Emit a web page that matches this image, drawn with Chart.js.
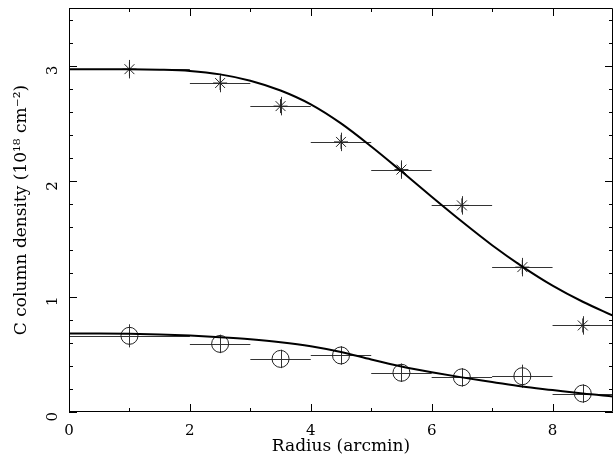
<!DOCTYPE html>
<html>
<head>
<meta charset="utf-8">
<script src="https://cdn.jsdelivr.net/npm/chart.js@4.4.0/dist/chart.umd.min.js"></script>
<style>
  html, body { margin: 0; padding: 0; background: #fff; }
  #wrap { width: 613px; height: 457px; }
</style>
</head>
<body>
<div id="wrap"><canvas id="densityChart"></canvas></div>
<script>
// Radial bins (arcmin)
const radius = [1, 2.5, 3.5, 4.5, 5.5, 6.5, 7.5, 8.5];
const binLow = [0, 2, 3, 4, 5, 6, 7, 8];
const binHigh = [2, 3, 4, 5, 6, 7, 8, 9];

// Column densities, 10^18 cm^-2
const upperDensity = [2.97, 2.85, 2.65, 2.34, 2.10, 1.79, 1.255, 0.75];
const upperErr = [0.08, 0.08, 0.08, 0.08, 0.08, 0.08, 0.08, 0.08];
const lowerDensity = [0.66, 0.59, 0.46, 0.49, 0.34, 0.30, 0.31, 0.16];
const lowerErr = [0.1, 0.08, 0.08, 0.08, 0.08, 0.08, 0.1, 0.08];

// Model profiles
const modelRadius = [0, 0.5, 1, 1.5, 2, 2.5, 3, 3.5, 4, 4.5, 5, 5.5, 6, 6.5, 7, 7.5, 8, 8.5, 9];
const upperModel = [2.97, 2.97, 2.97, 2.966, 2.955, 2.925, 2.87, 2.785, 2.665, 2.50, 2.30, 2.085, 1.865, 1.65, 1.445, 1.26, 1.095, 0.955, 0.835];
const lowerModel = [0.68, 0.68, 0.678, 0.672, 0.662, 0.648, 0.63, 0.605, 0.57, 0.52, 0.455, 0.395, 0.345, 0.30, 0.26, 0.22, 0.19, 0.16, 0.135];

// Axis ticks
const xMajorTicks = [0, 2, 4, 6, 8];
const xMinorTicks = [1, 3, 5, 7, 9];
const yMajorTicks = [0, 1, 2, 3];
const yMinorTicks = [0.2, 0.4, 0.6, 0.8, 1.2, 1.4, 1.6, 1.8, 2.2, 2.4, 2.6, 2.8, 3.2, 3.4];

const serif = '"DejaVu Serif", "Liberation Serif", serif';

function pairs(xs, ys) {
    return xs.map((x, i) => ({ x: x, y: ys[i] }));
}

// Error bars drawn under the markers
const errorBars = {
    id: 'errorBars',
    beforeDatasetsDraw(chart) {
        const { ctx, scales: { x, y } } = chart;
        ctx.save();
        ctx.strokeStyle = '#333';
        ctx.lineWidth = 1;
        const sets = [[upperDensity, upperErr], [lowerDensity, lowerErr]];
        sets.forEach(([vals, errs]) => {
            vals.forEach((v, i) => {
                const py = Math.round(y.getPixelForValue(v)) + 0.5;
                const px = Math.round(x.getPixelForValue(radius[i])) + 0.5;
                ctx.beginPath();
                ctx.moveTo(x.getPixelForValue(binLow[i]), py);
                ctx.lineTo(x.getPixelForValue(binHigh[i]), py);
                ctx.moveTo(px, y.getPixelForValue(v - errs[i]));
                ctx.lineTo(px, y.getPixelForValue(v + errs[i]));
                ctx.stroke();
            });
        });
        ctx.restore();
    }
};

// Box frame with inward ticks on all four sides
const frame = {
    id: 'frame',
    afterDraw(chart) {
        const { ctx, chartArea: a, scales: { x, y } } = chart;
        ctx.save();
        ctx.strokeStyle = '#000';
        ctx.lineWidth = 1;
        ctx.beginPath();
        ctx.rect(a.left + 0.5, a.top + 0.5, a.right - a.left - 1, a.bottom - a.top - 1);
        const tick = (vals, len) => {
            vals.forEach(v => {
                const px = Math.round(x.getPixelForValue(v)) + 0.5;
                ctx.moveTo(px, a.bottom); ctx.lineTo(px, a.bottom - len);
                ctx.moveTo(px, a.top); ctx.lineTo(px, a.top + len);
            });
        };
        const ytick = (vals, len) => {
            vals.forEach(v => {
                const py = Math.round(y.getPixelForValue(v)) + 0.5;
                ctx.moveTo(a.left, py); ctx.lineTo(a.left + len, py);
                ctx.moveTo(a.right, py); ctx.lineTo(a.right - len, py);
            });
        };
        tick(xMajorTicks, 8); tick(xMinorTicks, 4);
        ytick(yMajorTicks, 8); ytick(yMinorTicks, 4);
        ctx.stroke();
        ctx.restore();
    }
};

function noPadding(s) {
    s.paddingTop = 0; s.paddingBottom = 0;
    s.paddingLeft = 0; s.paddingRight = 0;
}

const ctx = document.getElementById('densityChart').getContext('2d');
new Chart(ctx, {
    type: 'scatter',
    data: {
        datasets: [
            { data: pairs(modelRadius, upperModel), showLine: true, borderColor: '#000', borderWidth: 2, pointRadius: 0, cubicInterpolationMode: 'monotone' },
            { data: pairs(modelRadius, lowerModel), showLine: true, borderColor: '#000', borderWidth: 2, pointRadius: 0, cubicInterpolationMode: 'monotone' },
            { data: pairs(radius, upperDensity), pointStyle: 'star', pointRadius: 7, borderColor: '#222', borderWidth: 1, backgroundColor: 'transparent' },
            { data: pairs(radius, lowerDensity), pointStyle: 'circle', pointRadius: 8.5, borderColor: '#222', borderWidth: 1, backgroundColor: 'transparent' }
        ]
    },
    options: {
        responsive: true,
        maintainAspectRatio: false,
        animation: false,
        layout: { autoPadding: false, padding: { top: 8, right: 0, left: 0, bottom: 0 } },
        plugins: { legend: { display: false }, tooltip: { enabled: false } },
        scales: {
            x: {
                type: 'linear', min: 0, max: 9,
                afterBuildTicks: s => { s.ticks = xMajorTicks.map(v => ({ value: v })); },
                afterFit: s => { s.height = 45; noPadding(s); },
                grid: { display: false }, border: { display: false },
                ticks: { color: '#000', font: { family: serif, size: 15 }, padding: 2, maxRotation: 0 },
                title: { display: true, text: 'Radius (arcmin)', color: '#000', font: { family: serif, size: 17 }, padding: { top: 0, bottom: 0 } }
            },
            y: {
                type: 'linear', min: 0, max: 3.5,
                afterBuildTicks: s => { s.ticks = yMajorTicks.map(v => ({ value: v })); },
                afterFit: s => { s.width = 69; noPadding(s); },
                grid: { display: false }, border: { display: false },
                ticks: { color: '#000', font: { family: serif, size: 15 }, minRotation: 90, maxRotation: 90, padding: 8 },
                title: { display: true, text: 'C column density (10¹⁸ cm⁻²)', color: '#000', font: { family: serif, size: 17 }, padding: { top: 11, bottom: 0 } }
            }
        }
    },
    plugins: [errorBars, frame]
});
</script>
</body>
</html>
